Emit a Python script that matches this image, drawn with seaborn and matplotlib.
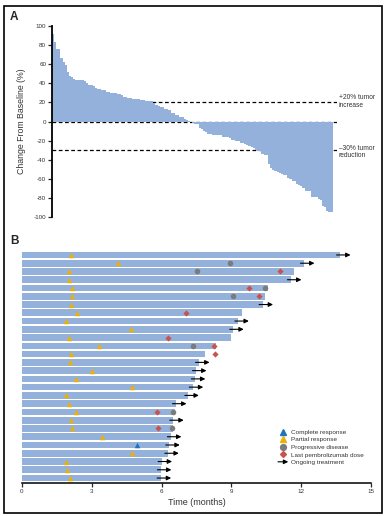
import numpy as np
import matplotlib
matplotlib.use("Agg")
import matplotlib.pyplot as plt
import matplotlib.patches as mpatches
from matplotlib.lines import Line2D
import seaborn as sns

sns.set_style("white")
plt.rcParams['font.family'] = ['Liberation Sans', 'DejaVu Sans']
plt.rcParams['axes.unicode_minus'] = False

# ---- panel A : best change from baseline (waterfall), read as plateaus ----
change_levels = [91.6, 83.2, 75.9, 66.5, 62.3, 59.2, 52.2, 47.6, 46.6, 44.5, 43.5, 42.4,
                 40.7, 38.2, 36.8, 35.1, 34.0, 32.6, 31.2, 30.2, 28.8, 27.4, 26.0, 24.3,
                 23.6, 22.5, 21.5, 19.4, 17.6, 15.9, 14.8, 13.1, 12.0, 8.9, 6.8, 4.7, 2.3,
                 1.6, 0.2,
                 -1.0, -1.9, -2.6, -6.5, -8.2, -9.9, -11.3, -12.7, -13.8, -14.5, -15.9,
                 -17.6, -19.4, -20.4, -22.2, -23.6, -24.6, -26.0, -27.0, -28.1, -29.8,
                 -30.9, -34.0, -35.4, -44.5, -48.7, -50.4, -51.5, -52.5, -53.9, -55.0,
                 -56.0, -59.2, -60.2, -62.0, -65.1, -66.5, -67.5, -70.0, -72.4, -78.7,
                 -80.8, -81.9, -88.5, -89.5, -93.4, -94.8]
level_counts = [1, 1, 2, 1, 1, 1, 1, 1, 1, 1, 4, 1,
                1, 2, 1, 1, 2, 2, 2, 3, 2, 1, 2, 2,
                4, 2, 4, 1, 1, 1, 2, 2, 1, 2, 2, 2, 1,
                1, 1,
                1, 1, 2, 1, 1, 1, 1, 2, 2, 3, 3,
                1, 2, 2, 2, 1, 1, 1, 1, 1, 1,
                2, 1, 2, 1, 1, 1, 1, 1, 1, 1,
                2, 1, 1, 2, 1, 1, 1, 1, 3, 3,
                1, 1, 1, 1, 1, 2]
change = np.repeat(change_levels, level_counts)
patients = np.arange(len(change))

# ---- panel B : swimmer plot (28 responders, months) ----
end_months = [13.67, 12.12, 11.69, 11.56, 10.56, 10.44, 10.34, 9.45, 9.30, 9.08,
              8.98, 8.32, 7.86, 7.61, 7.48, 7.43, 7.34, 7.15, 6.62, 6.57,
              6.50, 6.50, 6.40, 6.33, 6.29, 6.00, 5.97, 5.96]
pr_rows = [0, 1, 2, 3, 4, 5, 6, 7, 8, 9, 10, 11, 12, 13, 14, 15, 16, 17, 18, 19,
           20, 21, 22, 24, 25, 26, 27]
pr_time = [2.12, 4.14, 2.03, 2.01, 2.16, 2.16, 2.09, 2.36, 1.89, 4.67, 2.01, 3.30,
           2.12, 2.06, 3.02, 2.33, 4.71, 1.89, 2.03, 2.33, 2.11, 2.16, 3.42, 4.74,
           1.89, 1.93, 2.06]
cr_rows = [23]
cr_time = [4.93]
pd_rows = [1, 2, 4, 5, 11, 19, 21]
pd_time = [8.95, 7.53, 10.44, 9.05, 7.36, 6.48, 6.45]
dose_rows = [2, 4, 5, 7, 10, 11, 12, 19, 21]
dose_time = [11.10, 9.75, 10.18, 7.03, 6.29, 8.26, 8.31, 5.80, 5.84]
ongoing_rows = [0, 1, 3, 6, 8, 9, 13, 14, 15, 16, 17, 18, 20, 22, 23, 24, 25, 26, 27]
month_ticks = [0, 3, 6, 9, 12, 15]

bar_blue = "#93b1da"
txt = "#333333"
W, H = 387, 516

fig = plt.figure(figsize=(W / 100, H / 100), dpi=100)

# ---------------- A ----------------
axA = fig.add_axes([51.7 / W, 1 - 217 / H, (337 - 51.7) / W, 191 / H])
sns.barplot(x=patients, y=change, color=bar_blue, saturation=1, width=1,
            linewidth=0, ax=axA, zorder=2)
n = len(change)
axA.set_xlim(-0.5, -0.5 + n * 285.3 / 281)
axA.set_ylim(-100, 100)
for yv in (20, 0, -30):
    axA.axhline(yv, color="k", lw=0.9, ls=(0, (3, 2)), zorder=1)
axA.set_yticks(range(-100, 101, 20))
axA.tick_params(axis="y", direction="out", length=3, width=0.9, pad=1,
                labelsize=4.5, labelcolor=txt, left=True)
axA.set_xticks([])
axA.set_xlabel("")
sns.despine(ax=axA, bottom=True)
axA.spines["left"].set_linewidth(1.3)
axA.spines["left"].set_color("k")

tr = axA.get_yaxis_transform()
axA.text(1.006, 21, "+20% tumor\nincrease", transform=tr, fontsize=4.8, color=txt,
         ha="left", va="center", linespacing=1.1)
axA.text(1.006, -32, "\u201330% tumor\nreduction", transform=tr, fontsize=4.8, color=txt,
         ha="left", va="center", linespacing=1.1)
fig.text(22 / W, 1 - 121.5 / H, "Change From Baseline (%)", rotation=90,
         ha="center", va="center", fontsize=6.3, color=txt)

# ---------------- B ----------------
axB = fig.add_axes([22 / W, 1 - 483 / H, 349 / W, 233 / H])
rows = np.arange(len(end_months))
sns.barplot(x=end_months, y=rows, orient="h", color=bar_blue, saturation=1,
            width=0.8, linewidth=0, ax=axB, zorder=1)
axB.set_xlim(0, 15)
axB.set_ylim(27.6, -0.6)

for r in ongoing_rows:
    e = end_months[r]
    axB.annotate("", xy=(e + 0.45, r), xytext=(e - 0.15, r),
                 arrowprops=dict(arrowstyle="-|>", color="k", lw=0.8,
                                 mutation_scale=6.5, shrinkA=0, shrinkB=0), zorder=4)

sns.scatterplot(x=pr_time, y=pr_rows, marker="^", s=16, color="#e8b20c",
                linewidth=0, ax=axB, zorder=3)
sns.scatterplot(x=cr_time, y=cr_rows, marker="^", s=16, color="#1f74bd",
                linewidth=0, ax=axB, zorder=3)
sns.scatterplot(x=pd_time, y=pd_rows, marker="o", s=16, color="#7b7b7b",
                linewidth=0, ax=axB, zorder=3)
sns.scatterplot(x=dose_time, y=dose_rows, marker="D", s=10, color="#c8534d",
                linewidth=0, ax=axB, zorder=3)

axB.set_yticks([])
axB.set_ylabel("")
axB.set_xticks(month_ticks)
axB.tick_params(axis="x", direction="out", length=3, width=0.9, pad=1.5,
                labelsize=4.5, labelcolor=txt, bottom=True)
axB.set_xlabel("Time (months)", fontsize=6.5, color=txt, labelpad=3)
sns.despine(ax=axB, left=True)
axB.spines["bottom"].set_linewidth(1.1)
axB.spines["bottom"].set_color("k")


class ArrowKey:
    pass


class ArrowHandler:
    def legend_artist(self, legend, orig_handle, fontsize, handlebox):
        x0, y0 = handlebox.xdescent, handlebox.ydescent
        w, h = handlebox.width, handlebox.height
        p = mpatches.FancyArrowPatch((-x0, -y0 + h / 2), (-x0 + w, -y0 + h / 2),
                                     arrowstyle="-|>", mutation_scale=6.5, color="k",
                                     lw=0.8, shrinkA=0, shrinkB=0,
                                     transform=handlebox.get_transform())
        handlebox.add_artist(p)
        return p


handles = [
    Line2D([], [], ls="", marker="^", ms=4.2, color="#1f74bd"),
    Line2D([], [], ls="", marker="^", ms=4.2, color="#e8b20c"),
    Line2D([], [], ls="", marker="o", ms=4.2, color="#7b7b7b"),
    Line2D([], [], ls="", marker="D", ms=3.0, color="#c8534d"),
    ArrowKey(),
]
labels = ["Complete response", "Partial response", "Progressive disease",
          "Last pembrolizumab dose", "Ongoing treatment"]
leg = axB.legend(handles, labels, loc="upper left",
                 bbox_to_anchor=(278 / W, 1 - 429.5 / H), bbox_transform=fig.transFigure,
                 frameon=False, fontsize=4.6, handlelength=1.6, handletextpad=0.4,
                 labelspacing=0.32, borderpad=0, borderaxespad=0,
                 handler_map={ArrowKey: ArrowHandler()})
for t in leg.get_texts():
    t.set_color(txt)

# panel letters and outer frame
fig.text(10 / W, 1 - 17 / H, "A", fontsize=8.5, fontweight="bold", va="center", ha="left")
fig.text(10 / W, 1 - 241.5 / H, "B", fontsize=8.5, fontweight="bold", va="center", ha="left")
fig.add_artist(mpatches.Rectangle((4 / W, 1 - 513 / H), 378 / W, 507 / H,
                                  transform=fig.transFigure, fill=False, lw=1.2, ec="k"))

fig.savefig("out.png", dpi=100)
